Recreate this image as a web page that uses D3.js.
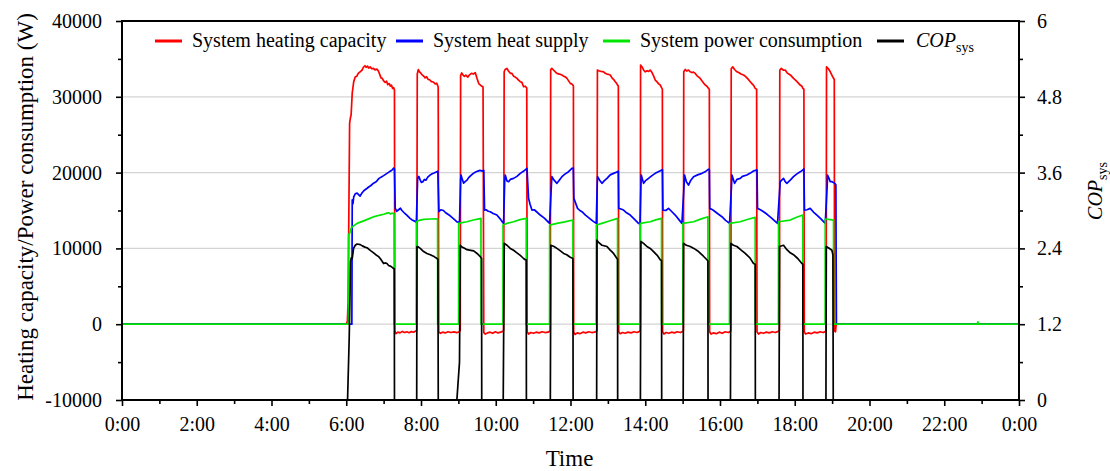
<!DOCTYPE html>
<html>
<head>
<meta charset="utf-8">
<script src="https://cdn.jsdelivr.net/npm/d3@7"></script>
<style>
  html, body { margin: 0; padding: 0; background: #fff; }
  svg { display: block; }
  text { font-family: "Liberation Serif", "Times New Roman", serif; fill: #000; }
</style>
</head>
<body>
<svg id="chart" width="1110" height="471"></svg>
<script>
// ---------------- DATA ----------------
const seriesNames = ["System heating capacity", "System heat supply", "System power consumption", "COP"];
const xMajorHours = [0, 2, 4, 6, 8, 10, 12, 14, 16, 18, 20, 22, 24];
const xTickLabels = ["0:00", "2:00", "4:00", "6:00", "8:00", "10:00", "12:00", "14:00", "16:00", "18:00", "20:00", "22:00", "0:00"];
const xMinorHours = [1, 3, 5, 7, 9, 11, 13, 15, 17, 19, 21, 23];
const leftMajorTicks = [-10000, 0, 10000, 20000, 30000, 40000];
const leftMinorTicks = [-5000, 5000, 15000, 25000, 35000];
const gridValues = [0, 10000, 20000, 30000];
const rightMajorTicks = [0, 1.2, 2.4, 3.6, 4.8, 6];
const rightTickLabels = ["0", "1.2", "2.4", "3.6", "4.8", "6"];
const rightMinorTicks = [0.6, 1.8, 3.0, 4.2, 5.4];

// System heating capacity (W), [hour, value]
const heatCap = [
[0,0],[6.00,0],[6.03,400],[6.05,3000],[6.09,26500],[6.11,27200],[6.13,27600],[6.16,30500],[6.20,32000],[6.24,32600],[6.28,32700],[6.32,33100],[6.37,33300],[6.42,33500],[6.46,33900],[6.50,34100],[6.53,33900],[6.57,34050],[6.60,33800],[6.64,33950],[6.68,33700],[6.73,33750],[6.77,33550],[6.82,33650],[6.86,33400],[6.90,32900],[6.93,32500],[6.96,32450],[7.00,32100],[7.04,31900],[7.08,32050],[7.11,31600],[7.15,31750],[7.18,31400],[7.21,31550],[7.24,31100],[7.27,31200],[7.29,30900],
[7.30,-900],[7.33,-1250],[7.38,-1050],[7.44,-1150],[7.50,-950],[7.56,-1100],[7.62,-1000],[7.68,-1120],[7.74,-980],[7.80,-1060],[7.86,-900],
[7.885,-800],[7.90,33000],[7.93,33600],[7.96,33300],[7.99,33150],[8.03,32900],[8.07,32750],[8.11,32500],[8.15,32650],[8.19,32300],[8.23,32250],[8.28,32000],[8.33,31950],[8.38,31700],[8.42,31800],[8.46,31300],
[8.475,-1000],[8.52,-1200],[8.58,-1050],[8.65,-1150],[8.72,-1000],[8.80,-1100],[8.88,-1020],[8.96,-1120],[9.03,-950],
[9.05,-800],[9.06,32800],[9.09,33150],[9.12,32900],[9.16,32700],[9.20,32850],[9.25,32600],[9.30,32900],[9.35,33100],[9.40,33000],[9.45,33200],[9.50,32400],[9.55,31700],[9.60,31500],[9.66,31300],
[9.68,-1100],[9.72,-1300],[9.78,-1150],[9.85,-1050],[9.92,-1200],[9.99,-1000],[10.06,-1150],[10.13,-1050],[10.19,-950],
[10.21,-800],[10.225,33300],[10.25,33600],[10.30,33750],[10.34,33400],[10.39,33100],[10.433,33090],[10.48,32700],[10.52,32600],[10.567,32430],[10.61,32200],[10.656,31990],[10.70,31900],[10.745,31330],[10.79,31400],[10.83,31150],
[10.84,-1000],[10.88,-1300],[10.94,-1100],[11.01,-1200],[11.08,-1050],[11.16,-1150],[11.24,-1000],[11.32,-1100],[11.40,-1050],[11.45,-900],
[11.458,-800],[11.47,33600],[11.50,33750],[11.55,33500],[11.60,33250],[11.637,33090],[11.70,33000],[11.771,32870],[11.82,32700],[11.87,32600],[11.905,32430],[11.95,32100],[11.993,31770],[12.03,31700],[12.065,31550],[12.078,31400],
[12.085,-1000],[12.12,-1350],[12.18,-1150],[12.25,-1250],[12.33,-1050],[12.41,-1150],[12.49,-1000],[12.57,-1100],[12.64,-1050],[12.70,-950],
[12.707,-800],[12.72,33530],[12.77,33400],[12.82,33350],[12.885,33300],[12.93,33100],[12.975,33000],[13.02,32950],[13.063,32870],[13.11,32500],[13.15,32300],[13.197,31990],[13.23,31800],[13.259,31550],[13.28,31400],
[13.29,-1000],[13.33,-1250],[13.39,-1100],[13.46,-1200],[13.54,-1050],[13.62,-1150],[13.70,-1000],[13.78,-1100],[13.85,-950],
[13.866,-800],[13.875,34190],[13.92,33900],[13.96,33500],[14.00,33300],[14.05,33450],[14.09,33350],[14.133,33530],[14.18,33200],[14.22,32800],[14.267,32210],[14.31,32000],[14.36,31700],[14.401,31550],[14.446,31110],[14.458,31000],
[14.465,-1000],[14.50,-1300],[14.56,-1100],[14.63,-1200],[14.70,-1050],[14.78,-1150],[14.86,-1000],[14.94,-1100],[15.01,-950],
[15.02,-800],[15.03,33300],[15.07,33600],[15.11,33400],[15.158,33530],[15.20,33300],[15.25,33200],[15.293,33250],[15.337,33090],[15.38,32800],[15.43,32600],[15.471,32430],[15.52,32100],[15.565,31800],[15.605,31550],[15.65,31400],[15.694,31110],[15.715,31000],
[15.722,-1000],[15.76,-1300],[15.82,-1150],[15.90,-1250],[15.98,-1050],[16.06,-1200],[16.14,-1000],[16.22,-1100],[16.28,-950],
[16.29,-800],[16.30,33700],[16.34,33950],[16.39,33600],[16.453,33300],[16.50,33200],[16.56,33000],[16.630,32870],[16.68,32700],[16.74,32400],[16.809,31990],[16.86,31700],[16.90,31500],[16.942,31110],[16.98,31000],
[16.99,-1000],[17.03,-1300],[17.09,-1100],[17.16,-1200],[17.24,-1050],[17.32,-1150],[17.40,-1000],[17.48,-1100],[17.56,-950],
[17.59,-800],[17.60,33500],[17.64,33750],[17.70,33500],[17.745,33530],[17.79,33200],[17.84,33000],[17.90,32800],[17.967,32430],[18.02,32200],[18.08,31900],[18.146,31550],[18.19,31400],[18.217,31110],[18.245,31000],
[18.255,-1000],[18.29,-1300],[18.36,-1150],[18.44,-1250],[18.52,-1050],[18.60,-1150],[18.68,-1000],[18.76,-1100],[18.83,-950],
[18.84,-800],[18.85,33960],[18.90,33700],[18.95,33300],[19.00,32800],[19.038,32430],[19.058,32300],
[19.065,-900],[19.09,-1000],[19.11,0],[24,0]
];

// System heat supply (W)
const heatSupply = [
[0,0],[6.15,0],[6.16,16400],[6.18,15900],[6.20,16800],[6.24,17200],[6.29,17300],[6.37,16900],[6.42,17300],[6.47,17600],[6.55,17900],[6.60,18100],[6.66,18300],[6.73,18600],[6.80,18800],[6.87,19200],[6.93,19400],[7.00,19600],[7.09,19900],[7.15,20100],[7.22,20300],[7.27,20600],[7.29,20500],
[7.31,15300],[7.35,14900],[7.40,15100],[7.45,15300],[7.49,15000],[7.55,14700],[7.62,14400],[7.70,14000],[7.76,13750],[7.83,13600],[7.875,13450],
[7.90,17500],[7.91,19240],[7.94,19500],[7.98,19000],[8.01,18700],[8.05,18800],[8.09,19100],[8.13,19000],[8.18,19400],[8.25,19700],[8.30,19850],[8.35,19950],[8.42,20100],[8.45,20200],
[8.48,14840],[8.53,15100],[8.60,15000],[8.66,14700],[8.72,14500],[8.78,14300],[8.85,14000],[8.92,13700],[8.96,13500],[9.03,13450],
[9.06,19000],[9.07,19680],[9.10,19200],[9.14,18600],[9.18,18800],[9.23,19000],[9.27,19300],[9.33,19600],[9.40,19900],[9.45,20050],[9.52,20200],[9.58,20300],[9.64,20200],[9.68,20300],
[9.70,15060],[9.74,15100],[9.80,14900],[9.853,14840],[9.93,14600],[10.03,14400],[10.10,14000],[10.16,13600],[10.21,13300],
[10.24,19000],[10.254,19680],[10.30,18900],[10.343,18800],[10.39,19100],[10.477,19240],[10.567,19500],[10.656,19900],[10.75,20200],[10.835,20560],
[10.878,16600],[10.92,15800],[10.968,15060],[11.03,15100],[11.10,14800],[11.19,14400],[11.30,14000],[11.38,13600],[11.44,13300],
[11.49,18500],[11.503,19460],[11.56,19000],[11.637,18580],[11.70,19000],[11.771,19460],[11.85,19800],[11.948,20120],[12.038,20560],[12.075,20600],
[12.09,16600],[12.189,15280],[12.25,15000],[12.306,14840],[12.40,14400],[12.50,14000],[12.60,13600],[12.689,13300],
[12.715,18500],[12.724,19460],[12.78,19000],[12.841,18580],[12.90,18900],[12.975,19240],[13.063,19700],[13.152,19900],[13.259,20120],[13.28,20200],
[13.29,15280],[13.35,15200],[13.419,15060],[13.50,14700],[13.598,14400],[13.70,13900],[13.82,13300],[13.86,13250],
[13.885,18500],[13.893,19680],[13.955,18580],[14.00,18900],[14.088,19240],[14.18,19600],[14.267,19900],[14.35,20100],[14.446,20340],[14.46,20400],
[14.473,15060],[14.55,15000],[14.623,15280],[14.70,14900],[14.802,14400],[14.90,13800],[14.981,13300],
[15.04,18500],[15.051,19680],[15.10,18800],[15.158,18360],[15.22,19000],[15.293,19460],[15.40,19700],[15.517,19900],[15.60,20100],[15.694,20450],[15.715,20400],
[15.725,15280],[15.80,15100],[15.872,14840],[15.96,14500],[16.051,14180],[16.15,13700],[16.256,13300],
[16.31,18500],[16.319,19680],[16.39,18580],[16.453,19100],[16.541,19240],[16.60,19500],[16.720,19680],[16.80,19900],[16.897,20210],[16.95,20300],[16.99,20350],
[17.004,15280],[17.08,15100],[17.165,14840],[17.26,14500],[17.389,13960],[17.47,13600],[17.539,13300],
[17.60,18000],[17.611,18800],[17.70,19240],[17.745,18800],[17.79,18580],[17.879,19000],[17.967,19460],[18.05,19800],[18.146,20100],[18.217,20340],[18.245,20500],
[18.26,15060],[18.33,15100],[18.413,15280],[18.50,14800],[18.593,14400],[18.70,13900],[18.816,13300],
[18.87,18500],[18.877,19680],[18.92,19200],[18.95,18800],[19.00,18800],[19.07,18580],[19.10,18400],[19.115,0],[24,0]
];

// System power consumption (W)
const power = [
[0,0],[6.06,0],[6.063,11800],[6.10,12100],[6.134,12700],[6.18,12900],[6.29,13300],[6.45,13600],[6.60,13900],[6.75,14200],[6.91,14400],[7.00,14500],[7.09,14650],[7.14,14700],[7.18,14550],[7.22,14650],[7.28,14600],[7.285,0],
[7.874,0],[7.876,13520],[7.95,13700],[8.07,13830],[8.25,13880],[8.444,13900],[8.447,0],
[9.006,0],[9.008,13300],[9.10,13400],[9.23,13520],[9.40,13750],[9.55,13900],[9.604,13960],[9.607,0],
[10.193,0],[10.195,13080],[10.30,13300],[10.477,13520],[10.65,13800],[10.816,13960],[10.818,0],
[11.44,0],[11.442,13080],[11.637,13300],[11.85,13500],[12.065,13750],[12.068,0],
[12.689,0],[12.691,13080],[12.84,13300],[13.06,13650],[13.259,13960],[13.262,0],
[13.864,0],[13.866,13300],[14.133,13520],[14.30,13800],[14.436,13960],[14.438,0],
[15.006,0],[15.008,13300],[15.293,13520],[15.50,13900],[15.677,14180],[15.679,0],
[16.254,0],[16.256,13300],[16.541,13520],[16.75,13850],[16.942,14100],[16.944,0],
[17.564,0],[17.566,13520],[17.879,13740],[18.05,14100],[18.217,14400],[18.219,0],
[18.814,0],[18.816,13880],[18.95,13800],[19.038,13740],[19.040,0],
[22.88,0],[22.90,300],[22.92,0],[24,0]
];

// COP_sys (right axis)
const cop = [
[0,0],[6.035,0],[6.08,1.0],[6.116,2.19],[6.134,2.25],[6.16,2.24],[6.196,2.40],[6.241,2.45],[6.29,2.47],[6.375,2.46],[6.43,2.44],[6.50,2.42],[6.554,2.41],[6.60,2.39],[6.66,2.36],[6.731,2.33],[6.79,2.30],[6.865,2.27],[6.91,2.24],[6.955,2.20],[7.00,2.16],[7.05,2.17],[7.089,2.16],[7.133,2.13],[7.178,2.12],[7.23,2.10],[7.267,2.08],[7.285,2.08],[7.29,0],
[7.885,0],[7.892,2.43],[7.936,2.42],[7.98,2.40],[8.07,2.35],[8.159,2.32],[8.248,2.30],[8.35,2.27],[8.427,2.24],[8.453,2.23],[8.462,0],
[8.96,0],[9.03,0.6],[9.051,2.45],[9.10,2.42],[9.14,2.41],[9.23,2.38],[9.33,2.37],[9.41,2.36],[9.50,2.32],[9.586,2.27],[9.621,2.24],[9.625,0],
[10.20,0],[10.228,2.48],[10.30,2.45],[10.388,2.40],[10.477,2.37],[10.567,2.33],[10.656,2.29],[10.745,2.24],[10.79,2.22],[10.816,2.22],[10.82,0],
[11.46,0],[11.476,2.45],[11.56,2.43],[11.637,2.40],[11.73,2.36],[11.815,2.32],[11.90,2.30],[11.993,2.26],[12.065,2.24],[12.07,0],
[12.70,0],[12.707,2.53],[12.76,2.49],[12.841,2.45],[12.975,2.43],[13.05,2.38],[13.152,2.32],[13.242,2.24],[13.259,2.23],[13.262,0],
[13.87,0],[13.884,2.51],[13.955,2.48],[14.045,2.43],[14.133,2.40],[14.222,2.35],[14.32,2.29],[14.401,2.22],[14.436,2.21],[14.44,0],
[15.015,0],[15.025,2.48],[15.10,2.45],[15.204,2.43],[15.30,2.40],[15.426,2.35],[15.55,2.28],[15.65,2.22],[15.677,2.20],[15.68,0],
[16.28,0],[16.292,2.48],[16.36,2.45],[16.453,2.43],[16.55,2.38],[16.675,2.32],[16.80,2.25],[16.897,2.16],[16.942,2.15],[16.946,0],
[17.58,0],[17.593,2.43],[17.70,2.45],[17.79,2.38],[17.879,2.33],[17.967,2.30],[18.08,2.24],[18.191,2.16],[18.217,2.15],[18.22,0],
[18.835,0],[18.843,2.43],[18.90,2.41],[18.994,2.37],[19.021,2.30],[19.03,0],[24,0]
];

// ---------------- LAYOUT ----------------
const L = 122, R = 1019, T = 21, B = 400;
const svg = d3.select("#chart");
const x = d3.scaleLinear().domain([0, 24]).range([L, R]);
const yL = d3.scaleLinear().domain([-10000, 40000]).range([B, T]);
const yR = d3.scaleLinear().domain([0, 6]).range([B, T]);

// gridlines
svg.append("g").selectAll("line").data(gridValues).join("line")
  .attr("x1", L).attr("x2", R)
  .attr("y1", d => yL(d)).attr("y2", d => yL(d))
  .attr("stroke", "#d4d4d4").attr("stroke-width", 1.2);

// series
const lineL = d3.line().x(d => x(d[0])).y(d => yL(d[1]));
const lineR = d3.line().x(d => x(d[0])).y(d => yR(d[1]));
const plot = svg.append("g");
plot.append("path").attr("d", lineL(heatCap)).attr("fill", "none").attr("stroke", "#ff0000").attr("stroke-width", 1.7).attr("stroke-linejoin", "round");
plot.append("path").attr("d", lineL(heatSupply)).attr("fill", "none").attr("stroke", "#0000ff").attr("stroke-width", 1.7).attr("stroke-linejoin", "round");
plot.append("path").attr("d", lineL(power)).attr("fill", "none").attr("stroke", "#00e600").attr("stroke-width", 1.7).attr("stroke-linejoin", "round");
plot.append("path").attr("d", lineR(cop)).attr("fill", "none").attr("stroke", "#000000").attr("stroke-width", 1.7).attr("stroke-linejoin", "round");

// axes
function styleAxis(g) {
  g.select(".domain").remove();
  g.selectAll(".tick line").attr("stroke", "#000").attr("stroke-width", 1.6);
  g.selectAll("text").style("font-family", "'Liberation Serif','Times New Roman',serif").style("font-size", "20px").attr("fill", "#000");
}
svg.append("g").attr("transform", `translate(${L},0)`)
  .call(d3.axisLeft(yL).tickValues(leftMajorTicks).tickSize(6).tickPadding(14).tickFormat(d => String(d)))
  .call(styleAxis);
svg.append("g").attr("transform", `translate(${L},0)`)
  .call(d3.axisLeft(yL).tickValues(leftMinorTicks).tickSize(4).tickFormat(""))
  .call(styleAxis);
svg.append("g").attr("transform", `translate(0,${B})`)
  .call(d3.axisBottom(x).tickValues(xMajorHours).tickSize(6).tickPadding(11).tickFormat((d, i) => xTickLabels[i]))
  .call(styleAxis);
svg.append("g").attr("transform", `translate(0,${B})`)
  .call(d3.axisBottom(x).tickValues(xMinorHours).tickSize(4).tickFormat(""))
  .call(styleAxis);
svg.append("g").attr("transform", `translate(${R},0)`)
  .call(d3.axisRight(yR).tickValues(rightMajorTicks).tickSize(6).tickPadding(12).tickFormat((d, i) => rightTickLabels[i]))
  .call(styleAxis);
svg.append("g").attr("transform", `translate(${R},0)`)
  .call(d3.axisRight(yR).tickValues(rightMinorTicks).tickSize(4).tickFormat(""))
  .call(styleAxis);

// frame
svg.append("rect").attr("x", L).attr("y", T).attr("width", R - L).attr("height", B - T)
  .attr("fill", "none").attr("stroke", "#000").attr("stroke-width", 2);

// axis titles
svg.append("text").attr("x", (L + R) / 2 - 1).attr("y", 466).attr("text-anchor", "middle")
  .style("font-size", "23px").text("Time");
svg.append("text").attr("transform", "translate(33,207) rotate(-90)").attr("text-anchor", "middle")
  .style("font-size", "23px").text("Heating capacity/Power consumption (W)");
const rt = svg.append("text").attr("transform", "translate(1102,191) rotate(-90)").attr("text-anchor", "middle")
  .style("font-size", "20px");
rt.append("tspan").style("font-style", "italic").text("COP");
rt.append("tspan").attr("dy", 5).style("font-size", "14px").text("sys");

// legend
const legendItems = [
  { name: seriesNames[0], color: "#ff0000", x1: 155, tx: 192 },
  { name: seriesNames[1], color: "#0000ff", x1: 396, tx: 433 },
  { name: seriesNames[2], color: "#00e600", x1: 603, tx: 640 },
  { name: seriesNames[3], color: "#000000", x1: 877, tx: 916, cop: true }
];
const lg = svg.append("g");
legendItems.forEach(it => {
  lg.append("line").attr("x1", it.x1).attr("x2", it.x1 + 27).attr("y1", 41).attr("y2", 41)
    .attr("stroke", it.color).attr("stroke-width", 3);
  const t = lg.append("text").attr("x", it.tx).attr("y", 47).style("font-size", "20px");
  if (it.cop) {
    t.append("tspan").style("font-style", "italic").text(it.name);
    t.append("tspan").attr("dy", 5).style("font-size", "14px").text("sys");
  } else {
    t.text(it.name);
  }
});
</script>
</body>
</html>
